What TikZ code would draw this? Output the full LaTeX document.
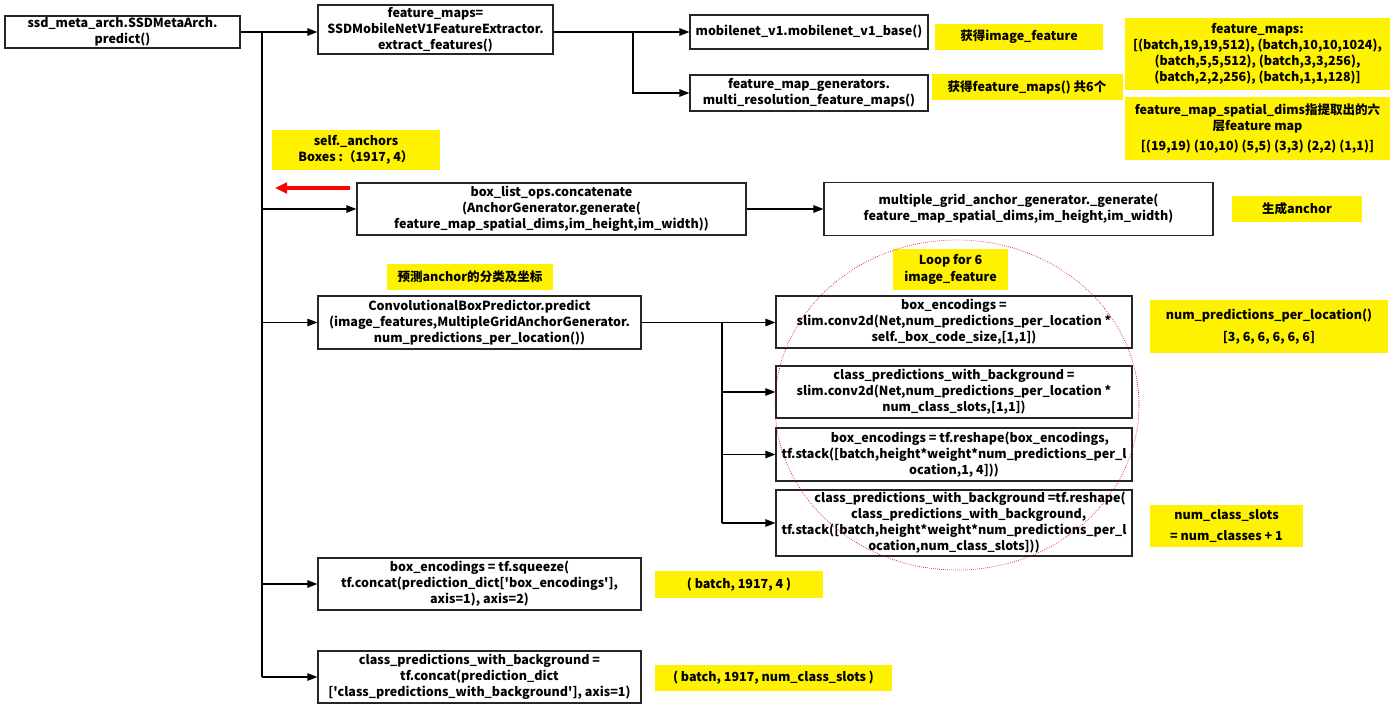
\documentclass[tikz,border=0pt]{standalone}
\usepackage{fontspec}
\newfontfamily\nf{Noto Sans CJK SC}
\usetikzlibrary{arrows.meta}
\tikzset{
  px/.style 2 args={minimum width=#1*0.75pt, minimum height=#2*0.75pt},
  txt/.style={font=\nf\bfseries\fontsize{9.4}{12}\selectfont},
  box/.style={txt, draw=black!85, line width=0.8pt, fill=white, align=center, inner sep=0pt},
  note/.style={txt, fill=yellow, align=center, inner sep=0pt},
  wire/.style={line width=1.1pt},
  conn/.style={wire, -{Triangle[length=7.5pt,width=5.5pt]}},
}
\begin{document}
\begin{tikzpicture}[x=0.75pt,y=-0.75pt]
\fill[white] (0,0) rectangle (1400,709);
\useasboundingbox (0,0) rectangle (1400,709);

% boxes
\node[box,px={235}{32}] (A) at (122.5,32) {ssd\_meta\_arch.SSDMetaArch.\\predict()};
\node[box,px={235}{49}] (B) at (435.5,29.5) {feature\_maps=\\SSDMobileNetV1FeatureExtractor.\\extract\_features()};
\node[box,px={238}{34}] (C) at (809,32) {mobilenet\_v1.mobilenet\_v1\_base()};
\node[box,px={238}{36}] (D) at (809,93) {feature\_map\_generators.\\multi\_resolution\_feature\_maps()};
\node[box,px={389}{52}] (E) at (551.5,209) {box\_list\_ops.concatenate\\(AnchorGenerator.generate(\\feature\_map\_spatial\_dims,im\_height,im\_width))};
\node[box,px={389}{53}] (F) at (1018.5,209) {multiple\_grid\_anchor\_generator.\_generate(\\feature\_map\_spatial\_dims,im\_height,im\_width)};
\node[box,px={323}{53}] (G) at (479.5,322.5) {ConvolutionalBoxPredictor.predict\\(image\_features,MultipleGridAnchorGenerator.\\num\_predictions\_per\_location())};
\node[box,px={356}{52}] (H1) at (954,322) {box\_encodings =\\slim.conv2d(Net,num\_predictions\_per\_location *\\self.\_box\_code\_size,[1,1])};
\node[box,px={356}{52}] (H2) at (954,392) {class\_predictions\_with\_background =\\slim.conv2d(Net,num\_predictions\_per\_location *\\num\_class\_slots,[1,1])};
\node[box,px={356}{53}] (H3) at (954,454.5) {\hspace*{24pt}box\_encodings = tf.reshape(box\_encodings,\\tf.stack([batch,height*weight*num\_predictions\_per\_l\\ocation,1, 4]))};
\node[box,px={356}{66}] (H4) at (954,523) {\hspace*{24pt}class\_predictions\_with\_background =tf.reshape(\\\hspace*{22pt}class\_predictions\_with\_background,\\tf.stack([batch,height*weight*num\_predictions\_per\_l\\ocation,num\_class\_slots]))};
\node[box,px={323}{52}] (I) at (479.5,584) {box\_encodings = tf.squeeze(\\tf.concat(prediction\_dict['box\_encodings'],\\axis=1), axis=2)};
\node[box,px={323}{52}] (J) at (479.5,677) {class\_predictions\_with\_background =\\tf.concat(prediction\_dict\\{}['class\_predictions\_with\_background'], axis=1)};

% notes
\node[note,px={168}{26}] (N1) at (1019,37) {获得image\_feature};
\node[note,px={191}{26}] (N2) at (1027,87) {获得feature\_maps() 共6个};
\node[note,px={265}{72}] (N3) at (1257.5,54) {feature\_maps:\\{}[(batch,19,19,512), (batch,10,10,1024),\\(batch,5,5,512), (batch,3,3,256),\\(batch,2,2,256), (batch,1,1,128)]};
\node[note,px={265}{63}] (N4) at (1257.5,128.5) {feature\_map\_spatial\_dims指提取出的六\\层feature map\\[3pt]{}[(19,19) (10,10) (5,5) (3,3) (2,2) (1,1)]};
\node[note,px={168}{40}] (N5) at (356,150) {self.\_anchors\\Boxes :（1917, 4）};
\node[note,px={130}{26}] (N6) at (1297,209) {生成anchor};
\node[note,px={166}{26}] (N7) at (470,277) {预测anchor的分类及坐标};
\node[note,px={115}{41}] (N8) at (950.5,269.5) {Loop for 6\\[1pt]image\_feature};
\node[note,px={238}{53}] (N9) at (1269,326.5) {num\_predictions\_per\_location()\\[4pt]{}[3, 6, 6, 6, 6, 6]};
\node[note,px={153}{42}] (N10) at (1226.5,526) {num\_class\_slots\\[4pt]= num\_classes + 1};
\node[note,px={168}{27}] (N11) at (739,584.5) {( batch, 1917, 4 )};
\node[note,px={237}{26}] (N12) at (773.5,678) {( batch, 1917, num\_class\_slots )};

% connectors
\coordinate (T0) at (262,32);
\coordinate (T1) at (262,677);
\draw[wire] (T0) -- (T1);
\draw[conn] (A.east) -- (A.east -| B.west);
\draw[conn] (T0 |- E.west) -- (E.west);
\draw[conn] (T0 |- G.west) -- (G.west);
\draw[conn] (T0 |- I.west) -- (I.west);
\draw[conn] (T1) -- (J.west);

\coordinate (Bb) at (633,32);
\draw[conn] (B.east |- C.west) -- (C.west);
\draw[conn] (Bb) -- (Bb |- D.west) -- (D.west);

\draw[conn] (E.east) -- (F.west);

\coordinate (Gb) at (722,322.5);
\draw[conn] (G.east) -- (G.east -| H1.west);
\draw[wire] (Gb) -- (Gb |- H4.west);
\draw[conn] (Gb |- H2.west) -- (H2.west);
\draw[conn] (Gb |- H3.west) -- (H3.west);
\draw[conn] (Gb |- H4.west) -- (H4.west);

% red arrow
\coordinate (R0) at (350,188);
\coordinate (R1) at (275,188);
\draw[red, line width=2.3pt, -{Triangle[length=9pt,width=8pt]}] (R0) -- (R1);

% loop ellipse
\draw[red!85!black, densely dotted, line width=0.5pt] (957,405) ellipse [x radius=182, y radius=165];
\end{tikzpicture}
\end{document}
